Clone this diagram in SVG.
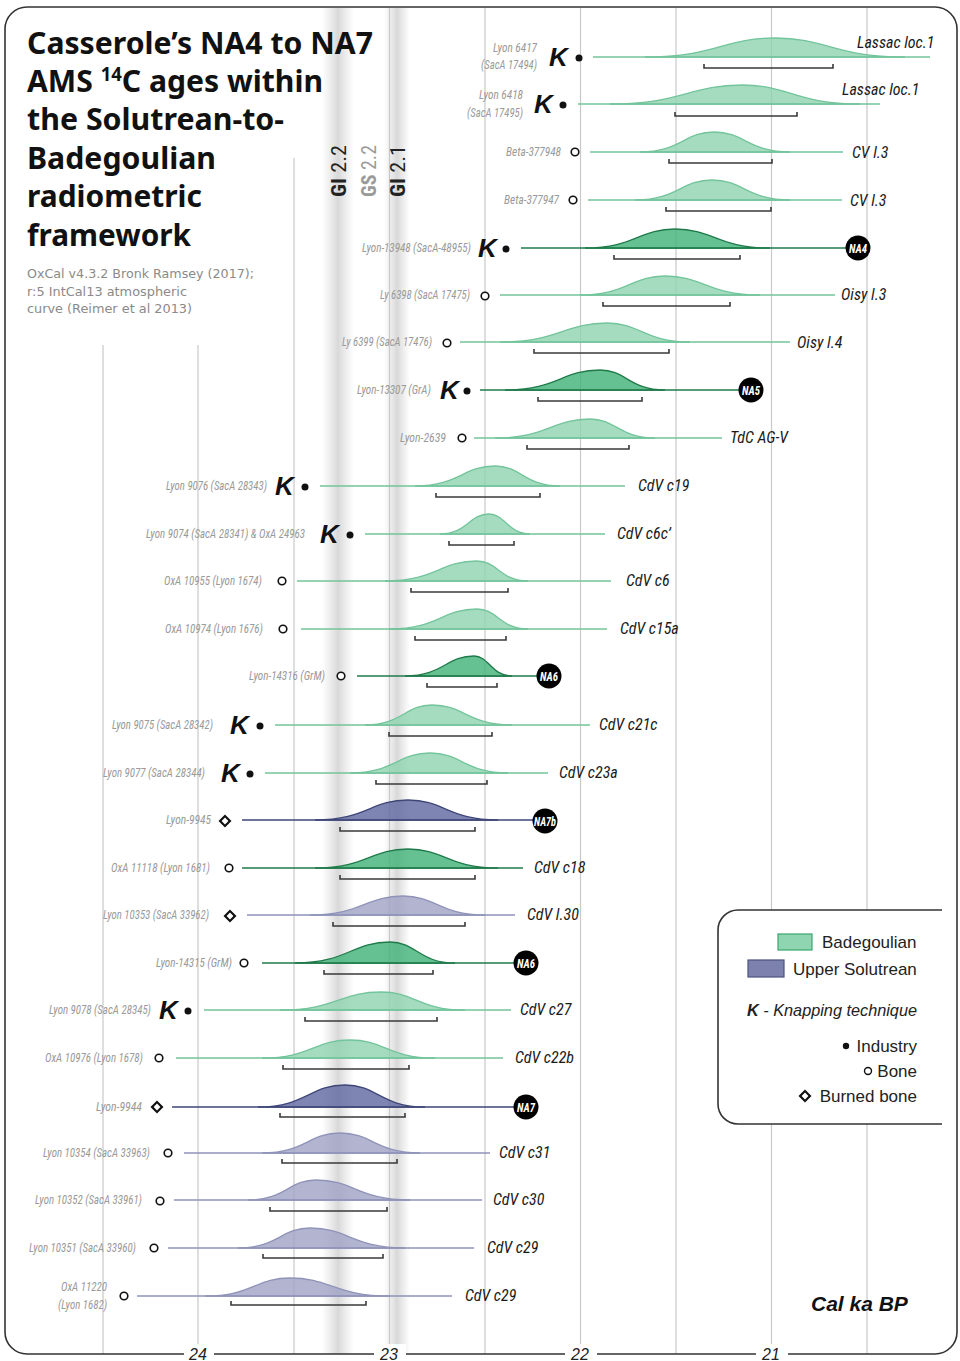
<svg xmlns="http://www.w3.org/2000/svg" width="960" height="1361" viewBox="0 0 960 1361">
<defs>
<linearGradient id="band" x1="0" y1="0" x2="1" y2="0">
<stop offset="0" stop-color="#d8d8d8" stop-opacity="0"/>
<stop offset="0.25" stop-color="#d8d8d8" stop-opacity="0.45"/>
<stop offset="0.5" stop-color="#d4d4d4" stop-opacity="0.9"/>
<stop offset="0.75" stop-color="#d8d8d8" stop-opacity="0.45"/>
<stop offset="1" stop-color="#d8d8d8" stop-opacity="0"/>
</linearGradient>
<style>
.grid{stroke:#c8c8c8;stroke-width:1.2;fill:none}
.frame{fill:none;stroke:#333;stroke-width:1.6}
.lg{fill:#8ed3b0;fill-opacity:0.8;stroke:#72c49a;stroke-width:1.3}
.dg{fill:#3fb277;fill-opacity:0.8;stroke:#1f7a4a;stroke-width:1.3}
.lp{fill:#9fa1c4;fill-opacity:0.8;stroke:#8f93b8;stroke-width:1.3}
.dp{fill:#5e66a0;fill-opacity:0.8;stroke:#3e4677;stroke-width:1.3}
.llg{stroke:#72c49a;stroke-width:1.6}
.ldg{stroke:#1f7a4a;stroke-width:1.6}
.llp{stroke:#8f93b8;stroke-width:1.6}
.ldp{stroke:#3e4677;stroke-width:1.6}
.br{fill:none;stroke:#3a3a3a;stroke-width:1.6}
.smp{font-family:"Liberation Sans Narrow","Roboto Condensed","Liberation Sans",sans-serif;font-style:italic;font-size:12px;fill:#9a9a9a;text-anchor:end}
.site{font-family:"Liberation Sans Narrow","Roboto Condensed","Liberation Sans",sans-serif;font-style:italic;font-size:16px;fill:#1a1a1a}
.K{font-family:"Liberation Sans",Arial,sans-serif;font-style:italic;font-weight:bold;font-size:26px;fill:#111}
.dot{fill:#111}
.ring{fill:#fff;stroke:#111;stroke-width:1.6}
.dia{fill:#fff;stroke:#111;stroke-width:2.2}
.na{fill:#000}
.nat{font-family:"Liberation Sans Narrow","Roboto Condensed","Liberation Sans",sans-serif;font-style:italic;font-weight:bold;font-size:13px;fill:#fff;text-anchor:middle}
.title{font-family:"Noto Sans","Open Sans","Liberation Sans",sans-serif;font-weight:bold;font-size:31px;fill:#111}
.sub{font-family:"DejaVu Sans",sans-serif;font-size:12.5px;fill:#8a8a8a}
.gi{font-family:"Liberation Sans Narrow","Roboto Condensed","Liberation Sans",sans-serif;font-size:21px}
.leg{font-family:"Liberation Sans",Arial,sans-serif;font-size:17px;fill:#222}
.ax{font-family:"Liberation Sans",Arial,sans-serif;font-style:italic;font-size:16px;fill:#222;text-anchor:middle}
</style>
</defs>
<rect x="0" y="0" width="960" height="1361" fill="#fff"/>

<g id="bands">
<rect x="322" y="8" width="32" height="1346" fill="url(#band)"/>
<rect x="384" y="8" width="26" height="1346" fill="url(#band)"/>
</g>

<g id="grid">
<line class="grid" x1="103" y1="345" x2="103" y2="1354"/>
<line class="grid" x1="198" y1="345" x2="198" y2="1354"/>
<line class="grid" x1="294" y1="158" x2="294" y2="1354"/>
<line class="grid" x1="389.5" y1="8" x2="389.5" y2="1354"/>
<line class="grid" x1="485" y1="8" x2="485" y2="1354"/>
<line class="grid" x1="580.5" y1="8" x2="580.5" y2="1354"/>
<line class="grid" x1="676" y1="8" x2="676" y2="1354"/>
<line class="grid" x1="771.5" y1="8" x2="771.5" y2="1354"/>
<line class="grid" x1="867" y1="8" x2="867" y2="1354"/>
</g>

<g id="frame">
<rect class="frame" x="5" y="7" width="952" height="1347" rx="22" ry="22"/>
<rect x="184" y="1344" width="30" height="17" fill="#fff"/>
<rect x="374" y="1344" width="32" height="17" fill="#fff"/>
<rect x="565" y="1344" width="32" height="17" fill="#fff"/>
<rect x="756" y="1344" width="32" height="17" fill="#fff"/>
<text class="ax" x="198" y="1360">24</text>
<text class="ax" x="389" y="1360">23</text>
<text class="ax" x="580" y="1360">22</text>
<text class="ax" x="771" y="1360">21</text>
<text x="811" y="1311" font-family="Liberation Sans, Arial, sans-serif" font-style="italic" font-weight="bold" font-size="21" fill="#111">Cal ka BP</text>
</g>

<g id="title">
<text class="title" x="27" y="54" textLength="346" lengthAdjust="spacingAndGlyphs">Casserole’s NA4 to NA7</text>
<text class="title" x="27" y="92" textLength="296" lengthAdjust="spacingAndGlyphs">AMS <tspan font-size="19" dy="-11">14</tspan><tspan dy="11">C ages within</tspan></text>
<text class="title" x="27" y="130" textLength="257" lengthAdjust="spacingAndGlyphs">the Solutrean-to-</text>
<text class="title" x="27" y="169" textLength="189" lengthAdjust="spacingAndGlyphs">Badegoulian</text>
<text class="title" x="27" y="207" textLength="175" lengthAdjust="spacingAndGlyphs">radiometric</text>
<text class="title" x="27" y="246" textLength="164" lengthAdjust="spacingAndGlyphs">framework</text>
<text class="sub" x="27" y="278" textLength="227" lengthAdjust="spacingAndGlyphs">OxCal v4.3.2 Bronk Ramsey (2017);</text>
<text class="sub" x="27" y="296" textLength="160" lengthAdjust="spacingAndGlyphs">r:5 IntCal13 atmospheric</text>
<text class="sub" x="27" y="313" textLength="165" lengthAdjust="spacingAndGlyphs">curve (Reimer et al 2013)</text>
</g>

<g id="stage-labels">
<text class="gi" transform="translate(346,197) rotate(-90)" fill="#222" textLength="52" lengthAdjust="spacingAndGlyphs"><tspan font-weight="bold">GI</tspan> 2.2</text>
<text class="gi" transform="translate(376,197) rotate(-90)" fill="#9a9a9a" textLength="52" lengthAdjust="spacingAndGlyphs"><tspan font-weight="bold">GS</tspan> 2.2</text>
<text class="gi" transform="translate(405,197) rotate(-90)" fill="#222" textLength="52" lengthAdjust="spacingAndGlyphs"><tspan font-weight="bold">GI</tspan> 2.1</text>
</g>

<g id="connectors">
<line class="llg" x1="593" y1="57" x2="930" y2="57"/>
<line class="llg" x1="578" y1="104" x2="880" y2="104"/>
<line class="llg" x1="590" y1="152" x2="843" y2="152"/>
<line class="llg" x1="588" y1="200" x2="842" y2="200"/>
<line class="ldg" x1="521" y1="248" x2="846" y2="248"/>
<line class="llg" x1="500" y1="295" x2="835" y2="295"/>
<line class="llg" x1="460" y1="342" x2="790" y2="342"/>
<line class="ldg" x1="480" y1="390" x2="739" y2="390"/>
<line class="llg" x1="474" y1="438" x2="722" y2="438"/>
<line class="llg" x1="320" y1="486" x2="625" y2="486"/>
<line class="llg" x1="365" y1="534" x2="605" y2="534"/>
<line class="llg" x1="297" y1="581" x2="611" y2="581"/>
<line class="llg" x1="301" y1="629" x2="607" y2="629"/>
<line class="ldg" x1="357" y1="676" x2="537" y2="676"/>
<line class="llg" x1="275" y1="725" x2="590" y2="725"/>
<line class="llg" x1="265" y1="773" x2="548" y2="773"/>
<line class="ldp" x1="242" y1="820" x2="533" y2="820"/>
<line class="ldg" x1="242" y1="868" x2="523" y2="868"/>
<line class="llp" x1="247" y1="915" x2="515" y2="915"/>
<line class="ldg" x1="262" y1="963" x2="514" y2="963"/>
<line class="llg" x1="204" y1="1010" x2="511" y2="1010"/>
<line class="llg" x1="176" y1="1058" x2="503" y2="1058"/>
<line class="ldp" x1="172" y1="1107" x2="514" y2="1107"/>
<line class="llp" x1="184" y1="1153" x2="490" y2="1153"/>
<line class="llp" x1="174" y1="1200" x2="482" y2="1200"/>
<line class="llp" x1="168" y1="1248" x2="474" y2="1248"/>
<line class="llp" x1="137" y1="1296" x2="452" y2="1296"/>
</g>

<g id="r01">
<path class="lg" d="M645,57 C716.5,57 723,38 775,38 C827,38 833.5,57 905,57 Z"/>
<path class="br" d="M704,64 V68 H833 V64"/>
<text class="smp" x="537" y="52" textLength="44" lengthAdjust="spacingAndGlyphs">Lyon 6417</text>
<text class="smp" x="537" y="69" textLength="56" lengthAdjust="spacingAndGlyphs">(SacA 17494)</text>
<text class="K" x="549" y="66">K</text><circle class="dot" cx="579" cy="58" r="3.5"/>
<text class="site" x="857" y="48">Lassac loc.1</text>
</g>
<g id="r02">
<path class="lg" d="M610,104 C682.6,104 689.2,85 742,85 C789.2,85 795.1,104 860,104 Z"/>
<path class="br" d="M675,112 V116 H797 V112"/>
<text class="smp" x="523" y="99" textLength="44" lengthAdjust="spacingAndGlyphs">Lyon 6418</text>
<text class="smp" x="523" y="117" textLength="56" lengthAdjust="spacingAndGlyphs">(SacA 17495)</text>
<text class="K" x="534" y="113">K</text><circle class="dot" cx="563" cy="105" r="3.5"/>
<text class="site" x="842" y="95">Lassac loc.1</text>
</g>
<g id="r03">
<path class="lg" d="M640,152 C680.7,152 684.4,132 714,132 C744.4,132 748.2,152 790,152 Z"/>
<path class="br" d="M669,159 V163 H772 V159"/>
<text class="smp" x="561" y="156" textLength="55" lengthAdjust="spacingAndGlyphs">Beta-377948</text>
<circle class="ring" cx="575" cy="152" r="3.8"/>
<text class="site" x="852" y="158">CV l.3</text>
</g>
<g id="r04">
<path class="lg" d="M635,200 C677.4,200 681.2,180 712,180 C743.2,180 747.1,200 790,200 Z"/>
<path class="br" d="M666,207 V211 H771 V207"/>
<text class="smp" x="559" y="204" textLength="55" lengthAdjust="spacingAndGlyphs">Beta-377947</text>
<circle class="ring" cx="573" cy="200" r="3.8"/>
<text class="site" x="850" y="206">CV l.3</text>
</g>
<g id="r05">
<path class="dg" d="M585,248 C634.5,248 639,229 675,229 C713,229 717.8,248 770,248 Z"/>
<path class="br" d="M614,255 V259 H740 V255"/>
<text class="smp" x="471" y="252" textLength="109" lengthAdjust="spacingAndGlyphs">Lyon-13948 (SacA-48955)</text>
<text class="K" x="478" y="257">K</text><circle class="dot" cx="506" cy="249" r="3.5"/>
<circle class="na" cx="858" cy="248" r="12.5"/><text class="nat" x="858" y="253" textLength="18" lengthAdjust="spacingAndGlyphs">NA4</text>
</g>
<g id="r06">
<path class="lg" d="M580,295 C626.8,295 631,276 665,276 C703,276 707.8,295 760,295 Z"/>
<path class="br" d="M603,302 V306 H730 V302"/>
<text class="smp" x="470" y="299" textLength="90" lengthAdjust="spacingAndGlyphs">Ly 6398 (SacA 17475)</text>
<circle class="ring" cx="485" cy="296" r="3.8"/>
<text class="site" x="841" y="300">Oisy l.3</text>
</g>
<g id="r07">
<path class="lg" d="M500,342 C558.9,342 564.2,323 607,323 C640.2,323 644.4,342 690,342 Z"/>
<path class="br" d="M534,349 V353 H669 V349"/>
<text class="smp" x="432" y="346" textLength="90" lengthAdjust="spacingAndGlyphs">Ly 6399 (SacA 17476)</text>
<circle class="ring" cx="447" cy="343" r="3.8"/>
<text class="site" x="797" y="348">Oisy l.4</text>
</g>
<g id="r08">
<path class="dg" d="M505,390 C557.3,390 562,370 600,370 C626,370 629.3,390 665,390 Z"/>
<path class="br" d="M538,397 V401 H642 V397"/>
<text class="smp" x="431" y="394" textLength="74" lengthAdjust="spacingAndGlyphs">Lyon-13307 (GrA)</text>
<text class="K" x="440" y="399">K</text><circle class="dot" cx="467" cy="391" r="3.5"/>
<circle class="na" cx="751" cy="390" r="12.5"/><text class="nat" x="751" y="395" textLength="18" lengthAdjust="spacingAndGlyphs">NA5</text>
</g>
<g id="r09">
<path class="lg" d="M495,438 C547.3,438 552,419 590,419 C616,419 619.3,438 655,438 Z"/>
<path class="br" d="M527,445 V449 H629 V445"/>
<text class="smp" x="446" y="442" textLength="46" lengthAdjust="spacingAndGlyphs">Lyon-2639</text>
<circle class="ring" cx="462" cy="438" r="3.8"/>
<text class="site" x="730" y="443">TdC AG-V</text>
</g>
<g id="r10">
<path class="lg" d="M415,486 C459,486 463,466 495,466 C521,466 524.3,486 560,486 Z"/>
<path class="br" d="M436,493 V497 H540 V493"/>
<text class="smp" x="267" y="490" textLength="101" lengthAdjust="spacingAndGlyphs">Lyon 9076 (SacA 28343)</text>
<text class="K" x="275" y="495">K</text><circle class="dot" cx="305" cy="487" r="3.5"/>
<text class="site" x="638" y="491">CdV c19</text>
</g>
<g id="r11">
<path class="lg" d="M440,534 C467,534 469.4,514 489,514 C505.4,514 507.5,534 530,534 Z"/>
<path class="br" d="M449,541 V545 H514 V541"/>
<text class="smp" x="305" y="538" textLength="159" lengthAdjust="spacingAndGlyphs">Lyon 9074 (SacA 28341) &amp; OxA 24963</text>
<text class="K" x="320" y="543">K</text><circle class="dot" cx="350" cy="535" r="3.5"/>
<text class="site" x="617" y="539">CdV c6c’</text>
</g>
<g id="r12">
<path class="lg" d="M385,581 C435.6,581 440.2,561 477,561 C497.4,561 499.9,581 528,581 Z"/>
<path class="br" d="M411,588 V592 H508 V588"/>
<text class="smp" x="262" y="585" textLength="98" lengthAdjust="spacingAndGlyphs">OxA 10955 (Lyon 1674)</text>
<circle class="ring" cx="282" cy="581" r="3.8"/>
<text class="site" x="626" y="586">CdV c6</text>
</g>
<g id="r13">
<path class="lg" d="M390,629 C437.9,629 442.2,609 477,609 C497.4,609 499.9,629 528,629 Z"/>
<path class="br" d="M415,636 V640 H506 V636"/>
<text class="smp" x="263" y="633" textLength="98" lengthAdjust="spacingAndGlyphs">OxA 10974 (Lyon 1676)</text>
<circle class="ring" cx="283" cy="629" r="3.8"/>
<text class="site" x="620" y="634">CdV c15a</text>
</g>
<g id="r14">
<path class="dg" d="M405,676 C443,676 446.4,656 474,656 C489.2,656 491.1,676 512,676 Z"/>
<path class="br" d="M427,683 V687 H497 V683"/>
<text class="smp" x="325" y="680" textLength="76" lengthAdjust="spacingAndGlyphs">Lyon-14316 (GrM)</text>
<circle class="ring" cx="341" cy="676" r="3.8"/>
<circle class="na" cx="549" cy="676" r="12.5"/><text class="nat" x="549" y="681" textLength="18" lengthAdjust="spacingAndGlyphs">NA6</text>
</g>
<g id="r15">
<path class="lg" d="M365,725 C401.9,725 405.2,705 432,705 C464,705 468,725 512,725 Z"/>
<path class="br" d="M389,732 V736 H492 V732"/>
<text class="smp" x="213" y="729" textLength="101" lengthAdjust="spacingAndGlyphs">Lyon 9075 (SacA 28342)</text>
<text class="K" x="230" y="734">K</text><circle class="dot" cx="260" cy="726" r="3.5"/>
<text class="site" x="599" y="730">CdV c21c</text>
</g>
<g id="r16">
<path class="lg" d="M350,773 C394,773 398,753 430,753 C461.2,753 465.1,773 508,773 Z"/>
<path class="br" d="M376,780 V784 H487 V780"/>
<text class="smp" x="205" y="777" textLength="102" lengthAdjust="spacingAndGlyphs">Lyon 9077 (SacA 28344)</text>
<text class="K" x="221" y="782">K</text><circle class="dot" cx="250" cy="774" r="3.5"/>
<text class="site" x="559" y="778">CdV c23a</text>
</g>
<g id="r17">
<path class="dp" d="M315,820 C366.2,820 370.8,800 408,800 C444,800 448.5,820 498,820 Z"/>
<path class="br" d="M340,827 V831 H475 V827"/>
<text class="smp" x="211" y="824" textLength="45" lengthAdjust="spacingAndGlyphs">Lyon-9945</text>
<rect class="dia" x="221.5" y="817.5" width="7" height="7" transform="rotate(45 225 821)"/>
<circle class="na" cx="545" cy="821" r="12.5"/><text class="nat" x="545" y="826" textLength="22" lengthAdjust="spacingAndGlyphs">NA7b</text>
</g>
<g id="r18">
<path class="dg" d="M315,868 C366.2,868 370.8,849 408,849 C444,849 448.5,868 498,868 Z"/>
<path class="br" d="M340,875 V879 H475 V875"/>
<text class="smp" x="210" y="872" textLength="99" lengthAdjust="spacingAndGlyphs">OxA 11118 (Lyon 1681)</text>
<circle class="ring" cx="229" cy="868" r="3.8"/>
<text class="site" x="534" y="873">CdV c18</text>
</g>
<g id="r19">
<path class="lp" d="M310,915 C361.2,915 365.8,896 403,896 C435.8,896 439.9,915 485,915 Z"/>
<path class="br" d="M333,922 V926 H465 V922"/>
<text class="smp" x="209" y="919" textLength="106" lengthAdjust="spacingAndGlyphs">Lyon 10353 (SacA 33962)</text>
<rect class="dia" x="226.5" y="912.5" width="7" height="7" transform="rotate(45 230 916)"/>
<text class="site" x="527" y="920">CdV l.30</text>
</g>
<g id="r20">
<path class="dg" d="M295,963 C347.3,963 352,942 390,942 C416,942 419.3,963 455,963 Z"/>
<path class="br" d="M324,970 V974 H433 V970"/>
<text class="smp" x="232" y="967" textLength="76" lengthAdjust="spacingAndGlyphs">Lyon-14315 (GrM)</text>
<circle class="ring" cx="244" cy="963" r="3.8"/>
<circle class="na" cx="526" cy="963" r="12.5"/><text class="nat" x="526" y="968" textLength="18" lengthAdjust="spacingAndGlyphs">NA6</text>
</g>
<g id="r21">
<path class="lg" d="M280,1010 C335.6,1010 340.6,992 381,992 C414.6,992 418.8,1010 465,1010 Z"/>
<path class="br" d="M305,1017 V1021 H437 V1017"/>
<text class="smp" x="151" y="1014" textLength="102" lengthAdjust="spacingAndGlyphs">Lyon 9078 (SacA 28345)</text>
<text class="K" x="159" y="1019">K</text><circle class="dot" cx="188" cy="1011" r="3.5"/>
<text class="site" x="520" y="1015">CdV c27</text>
</g>
<g id="r22">
<path class="lg" d="M262,1058 C310.4,1058 314.8,1040 350,1040 C384,1040 388.3,1058 435,1058 Z"/>
<path class="br" d="M283,1065 V1069 H409 V1065"/>
<text class="smp" x="143" y="1062" textLength="98" lengthAdjust="spacingAndGlyphs">OxA 10976 (Lyon 1678)</text>
<circle class="ring" cx="159" cy="1058" r="3.8"/>
<text class="site" x="515" y="1063">CdV c22b</text>
</g>
<g id="r23">
<path class="dp" d="M258,1107 C305.9,1107 310.2,1085 345,1085 C377,1085 381,1107 425,1107 Z"/>
<path class="br" d="M280,1113 V1117 H405 V1113"/>
<text class="smp" x="142" y="1111" textLength="46" lengthAdjust="spacingAndGlyphs">Lyon-9944</text>
<rect class="dia" x="153.5" y="1103.5" width="7" height="7" transform="rotate(45 157 1107)"/>
<circle class="na" cx="526" cy="1107" r="12.5"/><text class="nat" x="526" y="1112" textLength="18" lengthAdjust="spacingAndGlyphs">NA7</text>
</g>
<g id="r24">
<path class="lp" d="M262,1153 C304.9,1153 308.8,1133 340,1133 C372,1133 376,1153 420,1153 Z"/>
<path class="br" d="M282,1159 V1163 H397 V1159"/>
<text class="smp" x="150" y="1157" textLength="107" lengthAdjust="spacingAndGlyphs">Lyon 10354 (SacA 33963)</text>
<circle class="ring" cx="168" cy="1153" r="3.8"/>
<text class="site" x="499" y="1158">CdV c31</text>
</g>
<g id="r25">
<path class="lp" d="M248,1200 C285.4,1200 288.8,1180 316,1180 C353.6,1180 358.3,1200 410,1200 Z"/>
<path class="br" d="M270,1207 V1211 H387 V1207"/>
<text class="smp" x="142" y="1204" textLength="107" lengthAdjust="spacingAndGlyphs">Lyon 10352 (SacA 33961)</text>
<circle class="ring" cx="160" cy="1201" r="3.8"/>
<text class="site" x="493" y="1205">CdV c30</text>
</g>
<g id="r26">
<path class="lp" d="M238,1248 C277.6,1248 281.2,1228 310,1228 C348,1228 352.8,1248 405,1248 Z"/>
<path class="br" d="M263,1254 V1258 H383 V1254"/>
<text class="smp" x="136" y="1252" textLength="107" lengthAdjust="spacingAndGlyphs">Lyon 10351 (SacA 33960)</text>
<circle class="ring" cx="154" cy="1248" r="3.8"/>
<text class="site" x="487" y="1253">CdV c29</text>
</g>
<g id="r27">
<path class="lp" d="M205,1296 C251.8,1296 256,1278 290,1278 C330,1278 335,1296 390,1296 Z"/>
<path class="br" d="M231,1301 V1305 H366 V1301"/>
<text class="smp" x="107" y="1291" textLength="46" lengthAdjust="spacingAndGlyphs">OxA 11220</text>
<text class="smp" x="107" y="1309" textLength="49" lengthAdjust="spacingAndGlyphs">(Lyon 1682)</text>
<circle class="ring" cx="124" cy="1296" r="3.8"/>
<text class="site" x="465" y="1301">CdV c29</text>
</g>

<g id="legend">
<path d="M942,910 H738 A20,20 0 0 0 718,930 V1104 A20,20 0 0 0 738,1124 H942" fill="#fff" stroke="#333" stroke-width="1.6"/>
<rect x="778" y="934" width="34" height="16" fill="#8fd5b2" stroke="#3aa56c" stroke-width="1.2"/>
<text class="leg" x="822" y="948">Badegoulian</text>
<rect x="748" y="960" width="36" height="17" fill="#7c82ad" stroke="#4a5282" stroke-width="1.2"/>
<text class="leg" x="793" y="975">Upper Solutrean</text>
<text class="leg" x="917" y="1016" text-anchor="end" font-style="italic" textLength="170" lengthAdjust="spacingAndGlyphs"><tspan font-weight="bold">K</tspan> - Knapping technique</text>
<circle cx="846" cy="1046" r="3.2" fill="#111"/>
<text class="leg" x="917" y="1052" text-anchor="end">Industry</text>
<circle cx="868" cy="1071" r="3.5" fill="#fff" stroke="#111" stroke-width="1.4"/>
<text class="leg" x="917" y="1077" text-anchor="end">Bone</text>
<rect x="801.5" y="1092.5" width="7" height="7" fill="#fff" stroke="#111" stroke-width="2.2" transform="rotate(45 805 1096)"/>
<text class="leg" x="917" y="1102" text-anchor="end">Burned bone</text>
</g>
</svg>
